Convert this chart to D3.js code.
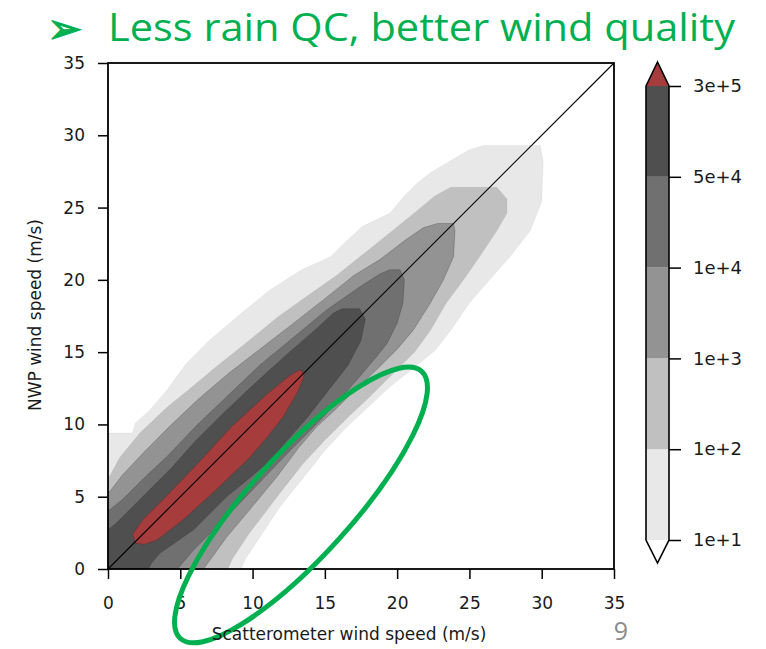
<!DOCTYPE html>
<html>
<head>
<meta charset="utf-8">
<script src="https://cdn.jsdelivr.net/npm/d3@7"></script>
<style>
  body { margin: 0; background: #fff; }
  svg { display: block; }
</style>
</head>
<body>
<div id="chart"></div>
<script>
// tick values for both axes (m/s)
const xTicks = [0, 5, 10, 15, 20, 25, 30, 35];
const yTicks = [0, 5, 10, 15, 20, 25, 30, 35];

// colorbar levels, bottom to top
const cbLevels = ["1e+1", "1e+2", "1e+3", "1e+4", "5e+4", "3e+5"];

// filled contour outlines, [scatterometer, NWP] in m/s
const contour1e1 = [[0,0],[0,9.4],[1.7,9.4],[1.9,10.1],[2.9,11.0],[4.1,12.4],[5.4,14.2],[7.0,15.8],[9.0,17.5],
  [11.2,19.3],[13.4,20.7],[15.4,21.6],[16.3,22.5],[17.6,23.7],[19.5,24.6],[20.4,25.7],[21.4,26.7],[22.3,27.4],
  [23.8,28.3],[25.0,29.0],[26.0,29.3],[29.9,29.3],[30.1,28.2],[30.0,25.4],[29.2,23.4],[27.8,21.6],[26.4,20.0],
  [25.0,18.4],[23.7,16.5],[22.6,15.1],[21.0,13.8],[19.5,12.6],[18.0,11.2],[16.5,9.8],[15.0,8.2],[13.5,6.3],
  [11.9,4.3],[10.5,2.2],[9.5,0.7],[9.2,0]];
const contour1e2 = [[0,0],[0,6.2],[0.8,7.7],[2.2,9.4],[4.1,11.2],[5.7,12.5],[7.5,14.0],[9.5,15.6],[11.7,17.4],
  [13.8,18.9],[15.8,20.3],[17.8,21.9],[19.8,23.5],[21.4,24.8],[22.6,25.8],[23.7,26.4],[26.9,26.4],[27.6,25.6],
  [27.6,24.6],[26.9,23.4],[25.7,21.6],[24.6,20.0],[23.4,18.4],[22.3,16.5],[21.2,15.0],[19.8,13.6],[18.2,12.0],
  [16.6,10.5],[15.0,8.9],[13.5,7.3],[11.7,5.0],[9.8,2.5],[8.6,0.7],[8.3,0]];
const contour1e3 = [[0,0],[0,5.2],[1.0,6.5],[2.5,8.1],[4.3,9.9],[6.2,11.7],[8.3,13.5],[10.5,15.2],[12.7,16.9],
  [15.0,18.7],[17.0,20.3],[18.8,21.4],[20.5,22.7],[21.8,23.6],[22.8,23.9],[23.9,23.9],[24.0,23.4],[23.9,21.6],
  [23.2,20.0],[22.3,18.4],[21.1,16.5],[20.0,15.2],[18.7,13.9],[17.2,12.5],[15.8,11.1],[14.4,9.8],[13.2,8.4],
  [11.7,6.4],[9.8,4.1],[8.2,2.2],[6.9,0.4],[6.6,0]];
const contour1e4 = [[0,0],[0,4.0],[1.0,4.8],[2.5,6.3],[4.1,7.8],[6.2,10.0],[8.3,12.0],[10.5,14.1],[12.8,16.0],
  [15.1,17.9],[17.4,19.5],[18.8,20.4],[19.5,20.7],[20.2,20.7],[20.5,20.0],[20.4,18.4],[20.0,17.0],[19.3,15.6],
  [18.5,14.6],[17.4,13.3],[16.0,11.7],[14.4,10.0],[12.6,8.2],[10.5,6.0],[8.2,3.6],[5.9,1.3],[4.8,0]];
const contour5e4 = [[0,0],[0,2.7],[0.6,3.2],[1.8,4.4],[3.0,5.6],[4.4,7.0],[6.0,8.8],[7.8,10.6],[9.8,12.5],
  [12.1,14.6],[14.4,16.6],[15.6,17.7],[16.2,18.0],[17.4,18.0],[17.8,17.3],[17.5,15.8],[16.6,14.1],[15.2,12.3],
  [13.8,10.5],[12.4,8.9],[11.2,7.5],[9.8,6.3],[8.2,5.0],[5.9,2.7],[3.6,1.1],[3.0,0.4],[2.8,0]];
const contour3e5 = [[1.9,1.8],[1.7,2.4],[2.4,3.4],[4.1,5.1],[6.4,7.5],[8.6,9.9],[11.0,12.1],[12.6,13.4],
  [13.3,13.8],[13.6,13.4],[13.1,12.2],[12.1,10.5],[11.0,9.1],[9.8,7.7],[7.5,5.5],[5.2,3.4],[3.4,2.0],[2.5,1.7]];

// 1:1 line
const diagonal = [[0, 0], [35, 35]];

// green ellipse annotation: centre, semi axes (m/s), tilt (deg)
const noteCenter = [13.35, 4.43];
const noteAxes = [12.45, 3.53];
const noteAngle = 47.9;

// colours, lowest level first
const fillColors = ["#e8e8e8", "#c0c0c0", "#939393", "#707070", "#4f4f4f"];
const topColor = "#a63c3c";
const green = "#00b050";

const W = 766, H = 649;
const margin = {top: 63, right: 152, bottom: 80, left: 108};
const width = W - margin.left - margin.right;   // 506
const height = H - margin.top - margin.bottom;  // 506

const svg = d3.select("#chart").append("svg")
    .attr("width", W)
    .attr("height", H)
    .style("font-family", "'DejaVu Sans', sans-serif");

// title
svg.append("text")
    .attr("x", 47)
    .attr("y", 43)
    .attr("fill", green)
    .attr("stroke", green)
    .attr("stroke-width", 1.2)
    .style("font-family", "'DejaVu Sans', sans-serif")
    .style("font-size", "42px")
    .text("➢");
svg.append("text")
    .attr("x", 108)
    .attr("y", 41)
    .attr("fill", green)
    .attr("textLength", 627)
    .attr("lengthAdjust", "spacingAndGlyphs")
    .style("font-family", "'Open Sans', sans-serif")
    .style("font-size", "38px")
    .text("Less rain QC, better wind quality");

const g = svg.append("g")
    .attr("transform", `translate(${margin.left},${margin.top})`);

const x = d3.scaleLinear().domain([0, 35]).range([0, width]);
const y = d3.scaleLinear().domain([0, 35]).range([height, 0]);

const line = d3.line()
    .x(d => x(d[0]))
    .y(d => y(d[1]));

// filled contours, outermost first
const contours = [contour1e1, contour1e2, contour1e3, contour1e4, contour5e4, contour3e5];
const colors = fillColors.concat([topColor]);

g.selectAll("path.level")
    .data(contours)
    .enter()
    .append("path")
    .attr("class", "level")
    .attr("d", d => line(d) + "Z")
    .attr("fill", (d, i) => colors[i])
    .attr("stroke", "#222")
    .attr("stroke-opacity", (d, i) => i < 2 ? 0.06 : 0.3)
    .attr("stroke-width", 0.8);

// 1:1 line
g.append("path")
    .attr("d", line(diagonal))
    .attr("stroke", "#000")
    .attr("stroke-width", 1.1)
    .attr("fill", "none");

// axes
const xAxis = g.append("g")
    .attr("transform", `translate(0,${height})`)
    .call(d3.axisBottom(x).tickValues(xTicks).tickSize(10).tickPadding(18));
const yAxis = g.append("g")
    .call(d3.axisLeft(y).tickValues(yTicks).tickSize(10).tickPadding(13));

[xAxis, yAxis].forEach(a => {
    a.select(".domain").remove();
    a.selectAll(".tick line").attr("stroke", "#000").attr("stroke-width", 1.5);
    a.selectAll(".tick text")
        .attr("fill", "#1a1a1a")
        .style("font-family", "'DejaVu Sans', sans-serif")
        .style("font-size", "17px");
});

// frame
g.append("rect")
    .attr("width", width)
    .attr("height", height)
    .attr("fill", "none")
    .attr("stroke", "#000")
    .attr("stroke-width", 1.8);

// axis labels
svg.append("text")
    .attr("x", margin.left + width / 2 - 12)
    .attr("y", 640)
    .attr("text-anchor", "middle")
    .attr("fill", "#1a1a1a")
    .style("font-size", "17px")
    .text("Scatterometer wind speed (m/s)");
svg.append("text")
    .attr("transform", "translate(41,315) rotate(-90)")
    .attr("text-anchor", "middle")
    .attr("fill", "#1a1a1a")
    .style("font-size", "17px")
    .text("NWP wind speed (m/s)");

// colorbar
const cbX = 646, cbW = 23;
const cb = d3.scalePoint().domain(cbLevels).range([540, 86]);
const cbG = svg.append("g");

cbG.selectAll("rect")
    .data(cbLevels.slice(0, -1))
    .enter()
    .append("rect")
    .attr("x", cbX)
    .attr("y", (d, i) => cb(cbLevels[i + 1]))
    .attr("width", cbW)
    .attr("height", (d, i) => cb(d) - cb(cbLevels[i + 1]))
    .attr("fill", (d, i) => fillColors[i]);

const topY = cb(cbLevels[cbLevels.length - 1]), botY = cb(cbLevels[0]);
cbG.append("path")
    .attr("d", `M${cbX},${topY}L${cbX + cbW / 2},${topY - 24}L${cbX + cbW},${topY}Z`)
    .attr("fill", topColor);
cbG.append("path")
    .attr("d", `M${cbX},${topY}L${cbX + cbW / 2},${topY - 24}L${cbX + cbW},${topY}` +
        `L${cbX + cbW},${botY}L${cbX + cbW / 2},${botY + 23}L${cbX},${botY}Z`)
    .attr("fill", "none")
    .attr("stroke", "#000")
    .attr("stroke-width", 1.6);

const cbAxis = cbG.append("g")
    .attr("transform", `translate(${cbX + cbW},0)`)
    .call(d3.axisRight(cb).tickSize(12).tickPadding(12));
cbAxis.select(".domain").remove();
cbAxis.selectAll(".tick line").attr("stroke", "#000").attr("stroke-width", 1.5);
cbAxis.selectAll(".tick text")
    .attr("fill", "#1a1a1a")
    .style("font-family", "'DejaVu Sans', sans-serif")
    .style("font-size", "18px");

// green ellipse annotation
const ex = x(noteCenter[0]), ey = y(noteCenter[1]);
g.append("ellipse")
    .attr("cx", ex)
    .attr("cy", ey)
    .attr("rx", x(noteAxes[0]) - x(0))
    .attr("ry", x(noteAxes[1]) - x(0))
    .attr("transform", `rotate(${-noteAngle},${ex},${ey})`)
    .attr("fill", "none")
    .attr("stroke", green)
    .attr("stroke-width", 5);

// slide number
svg.append("text")
    .attr("x", 621)
    .attr("y", 640)
    .attr("text-anchor", "middle")
    .attr("fill", "#8c8c8c")
    .style("font-family", "'Open Sans', sans-serif")
    .style("font-size", "25px")
    .text("9");
</script>
</body>
</html>
